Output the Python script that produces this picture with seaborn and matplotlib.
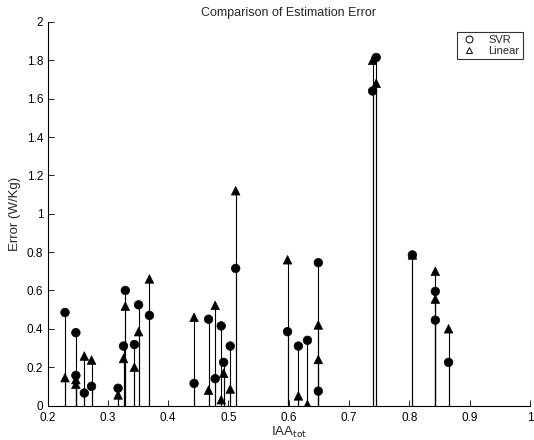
import matplotlib
matplotlib.use("Agg")
import matplotlib.pyplot as plt
from matplotlib.lines import Line2D
import seaborn as sns
import pandas as pd

iaa_tot = [0.229, 0.247, 0.247, 0.261, 0.273, 0.317, 0.326, 0.329, 0.344, 0.351,
           0.369, 0.443, 0.467, 0.478, 0.488, 0.492, 0.503, 0.512, 0.598, 0.616,
           0.631, 0.649, 0.649, 0.739, 0.745, 0.805, 0.843, 0.843, 0.865]
svr_error = [0.485, 0.38, 0.157, 0.065, 0.10, 0.09, 0.31, 0.60, 0.318, 0.525,
             0.47, 0.115, 0.45, 0.14, 0.415, 0.225, 0.31, 0.715, 0.385, 0.31,
             0.34, 0.745, 0.075, 1.64, 1.815, 0.785, 0.595, 0.445, 0.225]
linear_error = [0.145, 0.135, 0.11, 0.258, 0.237, 0.055, 0.245, 0.518, 0.20, 0.385,
                0.66, 0.46, 0.08, 0.522, 0.03, 0.168, 0.086, 1.12, 0.76, 0.05,
                0.005, 0.42, 0.24, 1.80, 1.68, 0.785, 0.70, 0.555, 0.40]
series_names = ["SVR", "Linear"]
x_ticks = [0.2, 0.3, 0.4, 0.5, 0.6, 0.7, 0.8, 0.9, 1.0]
x_tick_labels = ["0.2", "0.3", "0.4", "0.5", "0.6", "0.7", "0.8", "0.9", "1"]
y_ticks = [0, 0.2, 0.4, 0.6, 0.8, 1.0, 1.2, 1.4, 1.6, 1.8, 2.0]
y_tick_labels = ["0", "0.2", "0.4", "0.6", "0.8", "1", "1.2", "1.4", "1.6", "1.8", "2"]

df = pd.DataFrame({
    "IAA": iaa_tot * 2,
    "Error": svr_error + linear_error,
    "Model": [series_names[0]] * len(iaa_tot) + [series_names[1]] * len(iaa_tot),
})

sns.set_style("white")
plt.rcParams["font.family"] = ["Liberation Sans", "DejaVu Sans"]

fig = plt.figure(figsize=(5.34, 4.40), dpi=100)
ax = fig.add_axes([0.089, 0.0784, 0.9035, 0.8716])

ax.vlines(df["IAA"], 0, df["Error"], colors="black", linewidth=0.8, zorder=1)
sns.scatterplot(data=df, x="IAA", y="Error", style="Model",
                markers={"SVR": "o", "Linear": "^"}, color="black",
                edgecolor="black", s=38, linewidth=0.5, legend=False, ax=ax, zorder=2)

ax.set_xlim(0.2, 1.0)
ax.set_ylim(0, 2.0)
ax.set_xticks(x_ticks)
ax.set_xticklabels(x_tick_labels)
ax.set_yticks(y_ticks)
ax.set_yticklabels(y_tick_labels)
ax.tick_params(direction="in", length=4, width=0.6, labelsize=8.5, colors="black",
               bottom=True, left=True)
ax.tick_params(axis="x", pad=5)
ax.tick_params(axis="y", pad=3)
for s in ["top", "right"]:
    ax.spines[s].set_visible(False)
for s in ["left", "bottom"]:
    ax.spines[s].set_color("black")
    ax.spines[s].set_linewidth(0.8)

ax.set_xlabel(r"IAA$_{\mathrm{tot}}$", fontsize=9.5, labelpad=0)
ax.set_ylabel("Error (W/Kg)", fontsize=9.5, labelpad=4)
ax.set_title("Comparison of Estimation Error", fontsize=9, pad=4)

handles = [Line2D([], [], linestyle="none", marker="o", markerfacecolor="none",
                  markeredgecolor="black", markersize=5, markeredgewidth=0.7),
           Line2D([], [], linestyle="none", marker="^", markerfacecolor="none",
                  markeredgecolor="black", markersize=5, markeredgewidth=0.7)]
leg = ax.legend(handles, series_names, loc="upper right", bbox_to_anchor=(0.985, 0.975),
                fontsize=8, frameon=True, fancybox=False, edgecolor="black",
                handlelength=1.5, handletextpad=1.0, borderpad=0.3, labelspacing=0.1,
                borderaxespad=0)
leg.get_frame().set_linewidth(0.8)

fig.savefig("out.png", dpi=100)
